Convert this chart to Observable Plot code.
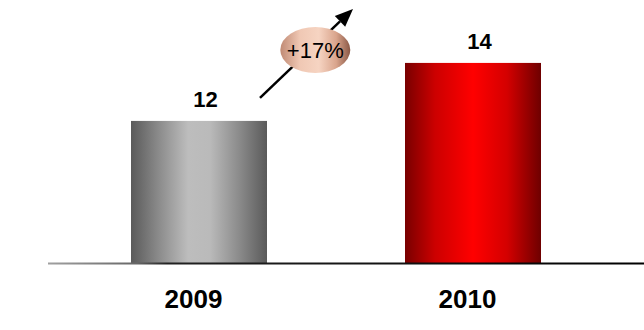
<!DOCTYPE html>
<html>
<head>
<meta charset="utf-8">
<script src="https://cdn.jsdelivr.net/npm/d3@7"></script>
<script src="https://cdn.jsdelivr.net/npm/@observablehq/plot@0.6"></script>
<style>
  html, body { margin: 0; padding: 0; background: #fff; }
  #chart svg { display: block; }
</style>
</head>
<body>
<div id="chart"></div>
<script>
// Yearly totals
const years = ["2009", "2010"];
const values = [12, 14];

const data = years.map((year, i) => ({year, value: values[i]}));
const growthLabel = `+${Math.round((values[1] / values[0] - 1) * 100)}%`;

// Value axis is cut off below the bars
const yFloor = 7.1;
const yCeil = 16.17;

const fillFor = {"2009": "url(#barGray)", "2010": "url(#barRed)"};

// Gradient definitions used by the bars, the badge and the baseline
function gradients() {
  const defs = d3.create("svg:defs");
  const lin = (id, stops, attrs = {}) => {
    const g = defs.append("linearGradient").attr("id", id)
      .attr("x1", 0).attr("x2", 1).attr("y1", 0).attr("y2", 0);
    for (const [k, v] of Object.entries(attrs)) g.attr(k, v);
    for (const [o, c] of stops) g.append("stop").attr("offset", o).attr("stop-color", c);
  };
  lin("barGray", [[0, "#5a5a5a"], [0.2, "#8a8a8a"], [0.42, "#bdbdbd"], [0.58, "#bababa"], [0.8, "#8a8a8a"], [1, "#5a5a5a"]]);
  lin("barRed", [[0, "#780000"], [0.22, "#cc0000"], [0.5, "#ff0000"], [0.75, "#d40000"], [1, "#6e0000"]]);
  lin("badge", [[0, "#c08a74"], [0.28, "#f0c8b4"], [0.55, "#f6d4c2"], [0.8, "#d9a48c"], [1, "#8a5846"]]);
  lin("baseline", [[0, "#a0a0a0"], [0.15, "#666"], [0.2, "#222"], [1, "#000"]],
      {gradientUnits: "userSpaceOnUse", x1: 48, x2: 644});
  return defs.node();
}

// Growth arrow with the percentage badge between the two bars
function growthBadge(index, {x, y}) {
  const bw = x.bandwidth();
  const left = x(years[0]) + bw;
  const right = x(years[1]);
  const gap = right - left;
  const top = y(values[1]);

  const x0 = left - 7, y0 = top + 35;
  const x1 = right - 52, y1 = top - 54;
  const ang = Math.atan2(y1 - y0, x1 - x0);
  const headLen = 18, headHalf = 7.5;
  const bx = x1 - headLen * Math.cos(ang), by = y1 - headLen * Math.sin(ang);
  const nx = -Math.sin(ang), ny = Math.cos(ang);

  const g = d3.create("svg:g");
  g.append("line")
    .attr("x1", x0).attr("y1", y0).attr("x2", bx).attr("y2", by)
    .attr("stroke", "#000").attr("stroke-width", 2.5);
  g.append("path")
    .attr("d", `M${x1},${y1}L${bx + nx * headHalf},${by + ny * headHalf}L${bx - nx * headHalf},${by - ny * headHalf}Z`)
    .attr("fill", "#000");

  const cx = left + gap * 0.35, cy = top - 13;
  g.append("ellipse")
    .attr("cx", cx).attr("cy", cy).attr("rx", 35).attr("ry", 23)
    .attr("fill", "url(#badge)");
  g.append("text")
    .attr("x", cx).attr("y", cy + 8.5)
    .attr("text-anchor", "middle")
    .attr("font-size", 22)
    .attr("fill", "#000")
    .text(growthLabel);
  return g.node();
}

const chart = Plot.plot({
  width: 644,
  height: 330,
  marginTop: 0,
  marginRight: 0,
  marginBottom: 67,
  marginLeft: 48,
  style: {fontFamily: "'Liberation Sans', Arial, sans-serif", background: "#fff", color: "#000"},
  x: {domain: years, range: [131, 541], paddingInner: 138 / 274, paddingOuter: 0, align: 0.5},
  y: {domain: [yFloor, yCeil], axis: null},
  marks: [
    gradients,
    Plot.barY(data, {
      x: "year",
      y1: () => yFloor,
      y2: "value",
      fill: (d) => fillFor[d.year]
    }),
    Plot.ruleY([yFloor], {stroke: "url(#baseline)", strokeWidth: 2}),
    Plot.text(data, {
      x: "year",
      y: "value",
      text: (d) => String(d.value),
      lineAnchor: "bottom",
      dy: -14,
      dx: 6,
      fontSize: 22,
      fontWeight: "bold",
      fill: "#000"
    }),
    Plot.axisX({
      tickSize: 0,
      tickPadding: 26,
      fontSize: 26,
      fontWeight: "bold",
      dx: -6,
      label: null
    }),
    growthBadge
  ],
  color: {type: "identity"}
});

document.getElementById("chart").append(chart);
</script>
</body>
</html>
